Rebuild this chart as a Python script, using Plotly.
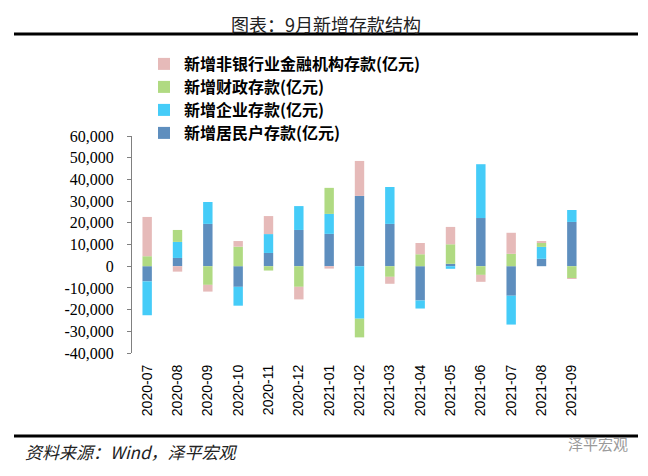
import plotly.graph_objects as go

# ---- data (亿元) ----
months = ["2020-07", "2020-08", "2020-09", "2020-10", "2020-11", "2020-12",
          "2021-01", "2021-02", "2021-03", "2021-04", "2021-05", "2021-06",
          "2021-07", "2021-08", "2021-09"]
household = [-7000, 3800, 19500, -9500, 6100, 16700, 14900, 32400, 19500,
             -15800, 1100, 22200, -13600, 3400, 20400]
corporate = [-15600, 7400, 10100, -8700, 8700, 11000, 9200, -24200, 17000,
             -3700, -1200, 24800, -13300, 5500, 5500]
fiscal = [4600, 5500, -8600, 9000, -2000, -9500, 12000, -8600, -4900,
          5500, 9000, -4000, 5700, 1800, -5500]
nonbank = [18100, -2500, -3100, 2600, 8300, -5800, -1100, 16100, -3200,
           5200, 8000, -3200, 9700, 900, -300]
y_ticks = list(range(-40000, 60001, 10000))

names = ["新增居民户存款(亿元)", "新增企业存款(亿元)", "新增财政存款(亿元)",
         "新增非银行业金融机构存款(亿元)"]
series = [household, corporate, fiscal, nonbank]
colors = ["#5E8EBE", "#45CCF8", "#B0DA82", "#E6BAB9"]

# ---- geometry helpers (pixel -> paper) ----
W, H = 648, 476
L, R, T, B = 132, 61, 136, 123


def px(x):
    return (x - L) / (W - L - R)


def py(y):
    return (H - B - y) / (H - T - B)


CJK = "Noto Sans CJK SC"
legend_ids = ["legend", "legend2", "legend3", "legend4"]
legend_centers = [133, 110, 87, 64]   # pixel rows of the legend entries

fig = go.Figure()
for name, vals, col, lid in zip(names, series, colors, legend_ids):
    fig.add_trace(go.Bar(x=months, y=vals, name=name, legend=lid,
                         marker=dict(color=col, line=dict(width=0))))

legend_font = dict(family=CJK, size=16, color="black", weight="bold")
legend_layout = {}
for lid, cy in zip(legend_ids, legend_centers):
    legend_layout[lid] = dict(x=px(144), xanchor="left", y=py(cy), yanchor="middle",
                              bgcolor="rgba(0,0,0,0)", font=legend_font)

fig.update_layout(
    width=W, height=H,
    margin=dict(l=L, r=R, t=T, b=B, autoexpand=False),
    paper_bgcolor="white", plot_bgcolor="white",
    barmode="relative", bargap=0.69,
    showlegend=True,
    **legend_layout,
    xaxis=dict(type="category", categoryarray=months, range=[-0.5, len(months) - 0.5],
               showline=False, ticks="", showgrid=False, zeroline=False,
               tickangle=-90, ticklabelstandoff=8,
               tickfont=dict(family="Liberation Sans", size=14, color="black")),
    xaxis2=dict(overlaying="x", anchor="free", position=0.4, side="bottom",
                range=[-0.5, len(months) - 0.5], showgrid=False, zeroline=False,
                showline=True, linecolor="#808080", linewidth=1.5,
                ticks="outside", ticklen=5, tickcolor="#808080", tickwidth=1.5,
                tickvals=[i - 0.5 for i in range(len(months) + 1)],
                showticklabels=False),
    yaxis=dict(range=[-40000, 60000], tickvals=y_ticks,
               ticktext=[f"{v:,}" for v in y_ticks],
               showline=True, linecolor="#808080", linewidth=1,
               ticks="outside", ticklen=4, tickcolor="#808080",
               showgrid=False, zeroline=False, ticklabelstandoff=10,
               tickfont=dict(family="Liberation Serif, Times New Roman, serif",
                             size=16, color="black")),
    shapes=[
        dict(type="line", xref="paper", yref="paper", x0=px(14), x1=px(638),
             y0=py(34), y1=py(34), line=dict(color="black", width=3)),
        dict(type="line", xref="paper", yref="paper", x0=px(14), x1=px(638),
             y0=py(436), y1=py(436), line=dict(color="black", width=3)),
    ],
    annotations=[
        dict(text="图表：9月新增存款结构", xref="paper", yref="paper",
             x=px(326), y=py(24), xanchor="center", yanchor="middle",
             showarrow=False, font=dict(family=CJK, size=18, color="#222")),
        dict(text="资料来源：Wind，泽平宏观", xref="paper", yref="paper",
             x=px(23), y=py(451), xanchor="left", yanchor="middle",
             showarrow=False,
             font=dict(family=CJK, size=17, color="#222", style="italic")),
        dict(text="泽平宏观", xref="paper", yref="paper",
             x=px(630), y=py(443), xanchor="right", yanchor="middle",
             showarrow=False, font=dict(family=CJK, size=15, color="#9a9a9a")),
    ],
)

fig.write_html("out.html", config={"displayModeBar": False},
               post_script="document.body.style.margin='0px';")
